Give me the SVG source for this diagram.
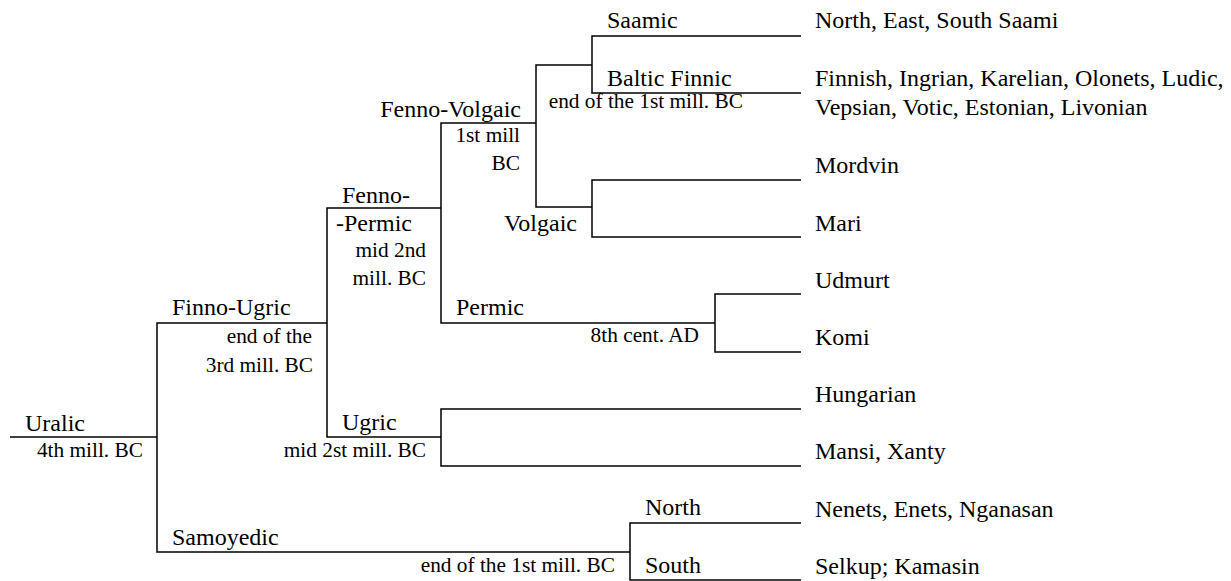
<svg xmlns="http://www.w3.org/2000/svg" width="1231" height="581" viewBox="0 0 1231 581">
<style>
text{font-family:'Liberation Serif','Times New Roman',Times,serif}
.l{font-size:24px}
.s{font-size:21.33px}
.e{text-anchor:end}
.c{fill:none;stroke:#000;stroke-width:1.5}
</style>
<rect width="1231" height="581" fill="#fff"/>
<g id="connectors" class="c">
<path d="M10,437H157"/>
<path d="M327,323H157V552H630"/>
<path d="M441,208H327V437H441"/>
<path d="M536,123H441V323H715"/>
<path d="M592,65H536V207H592"/>
<path d="M801,36H592V93H801"/>
<path d="M801,180H592V237H801"/>
<path d="M801,294H715V352H801"/>
<path d="M801,409H441V466H801"/>
<path d="M801,523H630V580H801"/>
</g>
<g font-family="'Liberation Serif','Times New Roman',serif" fill="#000">
<g id="uralic"><text class="l" x="25" y="431">Uralic</text><text class="s e" x="143" y="457">4th mill. BC</text></g>
<g id="finno-ugric"><text class="l" x="172" y="315">Finno-Ugric</text><text class="s e" x="312" y="343">end of the</text><text class="s e" x="313" y="372">3rd mill. BC</text></g>
<g id="samoyedic"><text class="l" x="172" y="545">Samoyedic</text><text class="s e" x="615" y="572">end of the 1st mill. BC</text></g>
<g id="fenno-permic"><text class="l" x="342" y="203">Fenno-</text><text class="l" x="336" y="231">-Permic</text><text class="s e" x="426" y="257">mid 2nd</text><text class="s e" x="426" y="285">mill. BC</text></g>
<g id="ugric"><text class="l" x="342" y="430">Ugric</text><text class="s e" x="426" y="457">mid 2st mill. BC</text></g>
<g id="fenno-volgaic"><text class="l e" x="521" y="117">Fenno-Volgaic</text><text class="s e" x="520" y="142">1st mill</text><text class="s e" x="520" y="170">BC</text></g>
<g id="permic"><text class="l" x="456" y="315">Permic</text><text class="s e" x="699" y="342">8th cent. AD</text></g>
<g id="volgaic"><text class="l e" x="577" y="231">Volgaic</text></g>
<g id="saamic"><text class="l" x="607" y="28">Saamic</text></g>
<g id="baltic-finnic"><text class="l" x="607" y="86">Baltic Finnic</text><text class="s e" x="743" y="108">end of the 1st mill. BC</text></g>
<g id="north"><text class="l" x="645" y="515">North</text></g>
<g id="south"><text class="l" x="645" y="573">South</text></g>
<g id="leaf-saami"><text class="l" x="815" y="28">North, East, South Saami</text></g>
<g id="leaf-baltic"><text class="l" x="815" y="86">Finnish, Ingrian, Karelian, Olonets, Ludic,</text><text class="l" x="815" y="115">Vepsian, Votic, Estonian, Livonian</text></g>
<g id="leaf-mordvin"><text class="l" x="815" y="173">Mordvin</text></g>
<g id="leaf-mari"><text class="l" x="815" y="231">Mari</text></g>
<g id="leaf-udmurt"><text class="l" x="815" y="288">Udmurt</text></g>
<g id="leaf-komi"><text class="l" x="815" y="345">Komi</text></g>
<g id="leaf-hungarian"><text class="l" x="815" y="402">Hungarian</text></g>
<g id="leaf-mansi"><text class="l" x="815" y="459">Mansi, Xanty</text></g>
<g id="leaf-nenets"><text class="l" x="815" y="517">Nenets, Enets, Nganasan</text></g>
<g id="leaf-selkup"><text class="l" x="815" y="574">Selkup; Kamasin</text></g>
</g>
</svg>
